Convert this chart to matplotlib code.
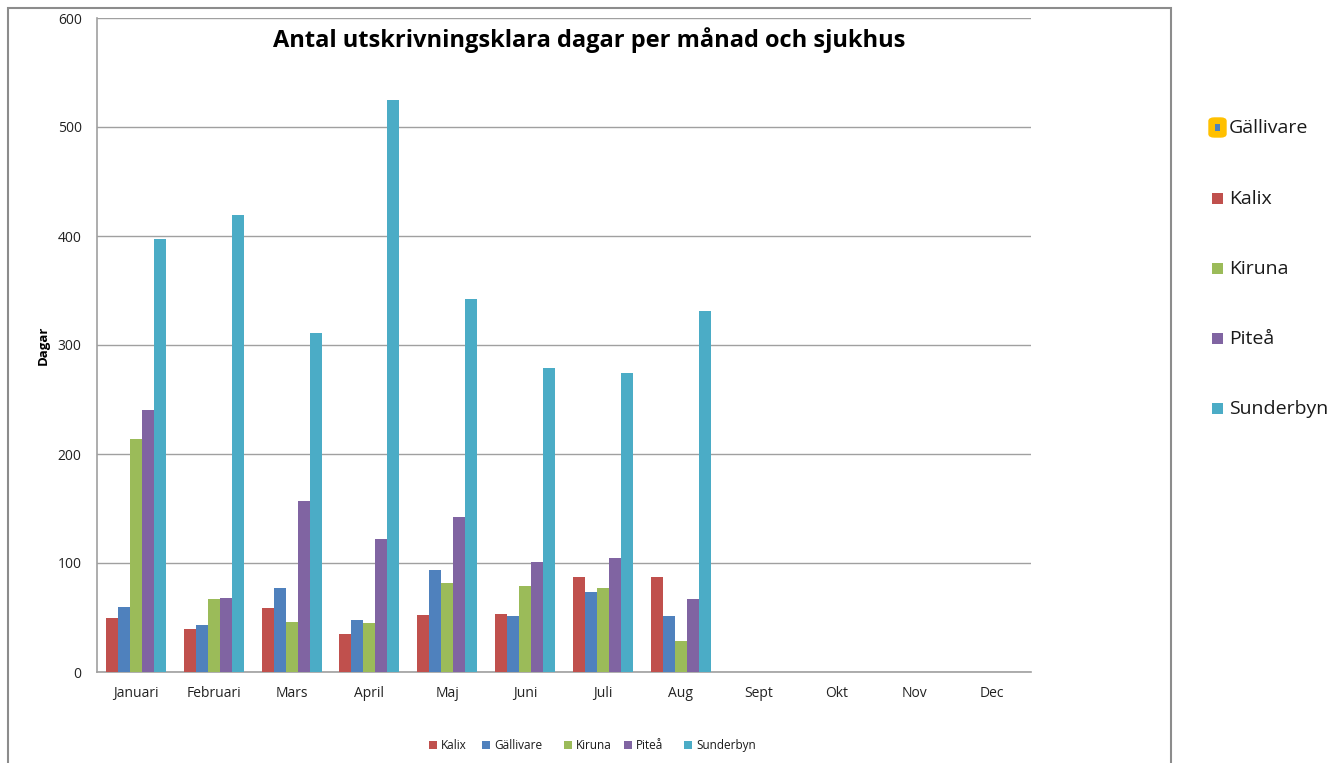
import numpy as np
import matplotlib.pyplot as plt
from matplotlib.patches import Rectangle, FancyBboxPatch

plt.rcParams['font.family'] = ['Open Sans', 'DejaVu Sans']

months = ["Januari", "Februari", "Mars", "April", "Maj", "Juni",
          "Juli", "Aug", "Sept", "Okt", "Nov", "Dec"]
hospitals = ["Kalix", "Gällivare", "Kiruna", "Piteå", "Sunderbyn"]
colors = ["#C0504D", "#4F81BD", "#9BBB59", "#8064A2", "#4BACC6"]

# values per hospital, Jan..Aug (rest of the year empty)
kalix = [50, 39, 59, 35, 52, 53, 87, 87]
gallivare = [60, 43, 77, 48, 94, 51, 73, 51]
kiruna = [214, 67, 46, 45, 82, 79, 77, 28]
pitea = [240, 68, 157, 122, 142, 101, 105, 67]
sunderbyn = [397, 419, 311, 525, 342, 279, 274, 331]
series = [kalix, gallivare, kiruna, pitea, sunderbyn]

W, H = 1344, 763
fig = plt.figure(figsize=(W / 100, H / 100), dpi=100)
ax = fig.add_axes([97 / W, (H - 672) / H, (1031 - 97) / W, (672 - 18) / H])

bw = 1 / (5 + 1.5)
x = np.arange(len(months))
for i, (vals, c) in enumerate(zip(series, colors)):
    ax.bar(x[:len(vals)] + (i - 2) * bw, vals, width=bw, color=c,
           label=hospitals[i], zorder=3)

ax.set_xlim(-0.5, len(months) - 0.5)
ax.set_ylim(0, 600)
ax.set_yticks(range(0, 601, 100))
ax.set_xticks(x)
ax.set_xticklabels(months, fontsize=10)
ax.tick_params(axis='both', length=0, labelsize=10, colors='#222222')
ax.tick_params(axis='x', pad=10)
ax.tick_params(axis='y', pad=11)
ax.yaxis.grid(True, color='#a0a0a0', linewidth=1, zorder=0)
for s in ['top', 'right']:
    ax.spines[s].set_visible(False)
for s in ['left', 'bottom']:
    ax.spines[s].set_color('#a0a0a0')
    ax.spines[s].set_linewidth(1.2)
ax.set_ylabel("Dagar", fontsize=9.5, fontweight='bold', labelpad=6)

fig.text(589 / W, (H - 40) / H, "Antal utskrivningsklara dagar per månad och sjukhus",
         fontsize=17, fontweight='bold', ha='center', va='center')

# bottom legend (drawn by hand so all labels sit on one baseline)
leg_x = [429, 482, 564, 624, 684]
for name, lx in zip(hospitals, leg_x):
    c = colors[hospitals.index(name)]
    fig.patches.append(Rectangle((lx / W, (H - 749) / H), 8 / W, 8 / H,
                                 transform=fig.transFigure, facecolor=c))
    fig.text((lx + 12) / W, (H - 749) / H, name, fontsize=8.5, ha='left',
             va='baseline', color='#1a1a1a')

# chart area border
fig.patches.append(Rectangle((8 / W, -0.01), (1171 - 8) / W, (H - 8) / H + 0.01,
                             transform=fig.transFigure, fill=False,
                             edgecolor='#8c8c8c', linewidth=1.5))

# outer legend on the right
order = ["Gällivare", "Kalix", "Kiruna", "Piteå", "Sunderbyn"]
ys = [128, 199, 269, 339, 409]
for name, yy in zip(order, ys):
    c = colors[hospitals.index(name)]
    if name == "Gällivare":
        fig.patches.append(FancyBboxPatch((1209 / W, (H - yy - 9) / H),
                                          17 / W, 19 / H,
                                          boxstyle="round,pad=0,rounding_size=0.004",
                                          transform=fig.transFigure,
                                          facecolor='#FFC000', edgecolor='#FFC000'))
        fig.patches.append(Rectangle((1215 / W, (H - yy - 3) / H), 5 / W, 7 / H,
                                     transform=fig.transFigure, facecolor=c))
    else:
        fig.patches.append(Rectangle((1212 / W, (H - yy - 5) / H), 11 / W, 11 / H,
                                     transform=fig.transFigure, facecolor=c))
    fig.text(1229 / W, (H - yy) / H, name, fontsize=14, va='center', ha='left',
             color='#1a1a1a')

fig.savefig("out.png", dpi=100)
